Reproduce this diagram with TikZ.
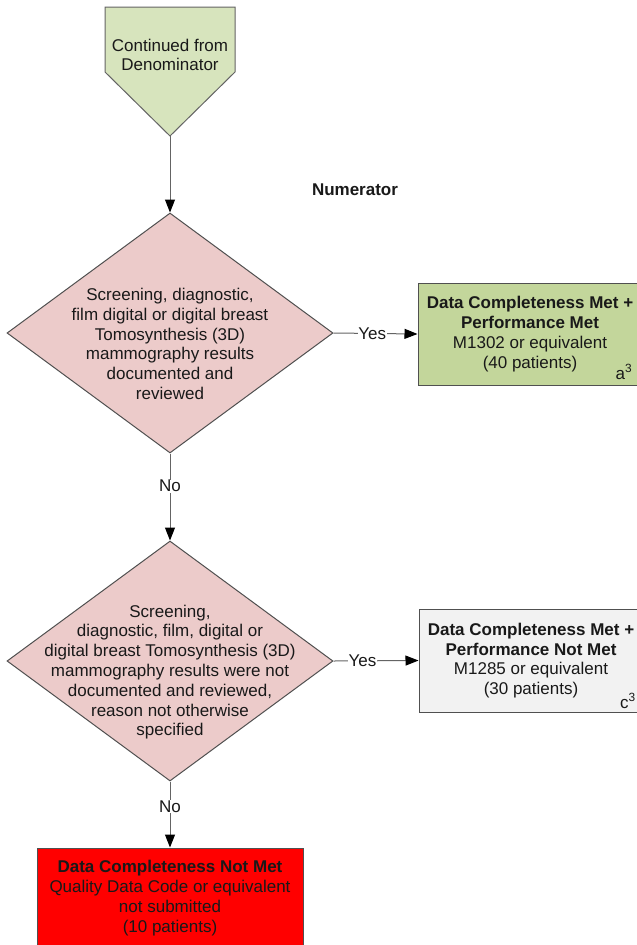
\documentclass[tikz,border=0pt]{standalone}
\usepackage{fontspec}
\setmainfont{Liberation Sans}
\usetikzlibrary{shapes.geometric,arrows.meta}
\definecolor{pentgreen}{RGB}{215,228,189}
\definecolor{boxgreen}{RGB}{195,214,155}
\definecolor{dpink}{RGB}{236,203,202}
\definecolor{lgray}{RGB}{242,242,242}
\definecolor{edgecol}{RGB}{80,80,80}
\definecolor{conncol}{RGB}{100,100,100}
\definecolor{txtcol}{RGB}{25,25,25}
\tikzset{
  shapeline/.style={draw=edgecol, line width=1pt},
  decision/.style={shapeline, shape=diamond, fill=dpink, inner sep=0pt,
    minimum width=326pt, minimum height=240pt},
  outbox/.style={shapeline, rectangle, align=center, inner sep=0pt, text=txtcol},
  txt/.style={align=center, text=txtcol, inner sep=0pt},
  conn/.style={draw=conncol, line width=1pt,
    -{Triangle[length=13pt,width=10pt,color=black]}},
  lab/.style={fill=white, inner sep=0.6pt, text=txtcol}
}
\begin{document}
\begin{tikzpicture}[x=1pt,y=-1pt,font=\fontsize{17}{19.8}\selectfont]
\useasboundingbox (0,0) rectangle (637,945);
\clip (0,0) rectangle (637,945);
\fill[white] (0,0) rectangle (637,945);

% start pentagon
\draw[shapeline, draw=conncol, fill=pentgreen] (105,7) -- (235,7) -- (235,72) -- (170,136) -- (105,72) -- cycle;
\node[txt] (cont) at (170,55) {Continued from\\Denominator};
\coordinate (conttip) at (170,136);

\node[txt, font=\fontsize{17}{19.8}\selectfont\bfseries] (numer) at (355,190) {Numerator};

% decisions
\node[decision] (d1) at (170,333) {};
\node[txt] (d1t) at (170,344) {Screening, diagnostic,\\film digital or digital breast\\Tomosynthesis (3D)\\mammography results\\documented and\\reviewed};

\node[decision] (d2) at (170,661) {};
\node[txt] (d2t) at (170,672) {Screening,\\diagnostic, film, digital or\\digital breast Tomosynthesis (3D)\\mammography results were not\\documented and reviewed,\\reason not otherwise\\specified};

% outcome boxes
\node[outbox, fill=boxgreen, minimum width=224pt, minimum height=102pt] (b1) at (530,334)
  {\textbf{Data Completeness Met +}\\\textbf{Performance Met}\\M1302 or equivalent\\(40 patients)};
\node[txt] (b1n) at (624,372) {a\textsuperscript{3}};

\node[outbox, fill=lgray, minimum width=224pt, minimum height=103pt] (b2) at (531,660.5)
  {\textbf{Data Completeness Met +}\\\textbf{Performance Not Met}\\M1285 or equivalent\\(30 patients)};
\node[txt] (b2n) at (628,701) {c\textsuperscript{3}};

\node[outbox, fill=red, minimum width=266pt, minimum height=100pt] (b3) at (170,898)
  {\textbf{Data Completeness Not Met}\\Quality Data Code or equivalent\\not submitted\\(10 patients)};

% connectors
\draw[conn] (conttip) -- (d1.north);
\draw[conn] (d1.east) -- node[lab, pos=0.46] {Yes} (b1.west);
\draw[conn] (d1.south) -- node[lab, pos=0.375] {No} (d2.north);
\draw[conn] (d2.east) -- node[lab, pos=0.34] {Yes} (b2.west);
\draw[conn] (d2.south) -- node[lab, pos=0.38] {No} (b3.north);
\end{tikzpicture}
\end{document}
